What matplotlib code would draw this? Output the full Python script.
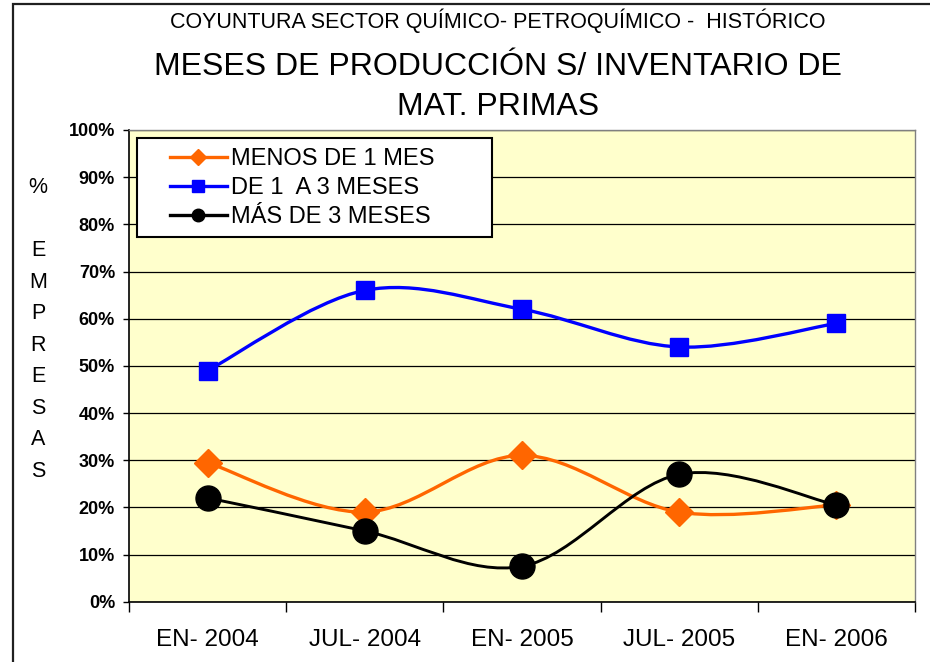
import matplotlib
matplotlib.use('Agg')
import matplotlib.pyplot as plt
from matplotlib.path import Path
from matplotlib.patches import PathPatch, Rectangle
from matplotlib.lines import Line2D

plt.rcParams['font.family'] = ['Liberation Sans', 'DejaVu Sans']

categories = ["EN- 2004", "JUL- 2004", "EN- 2005", "JUL- 2005", "EN- 2006"]
menos_1_mes = [29.5, 19, 31, 19, 20.5]
de_1_a_3_meses = [49, 66, 62, 54, 59]
mas_de_3_meses = [22, 15, 7.5, 27, 20.5]
y_ticks = [0, 10, 20, 30, 40, 50, 60, 70, 80, 90, 100]
y_tick_labels = [f"{v}%" for v in y_ticks]
series_names = ["MENOS DE 1 MES", "DE 1  A 3 MESES", "MÁS DE 3 MESES"]

W, H = 930, 662
fig = plt.figure(figsize=(W / 100, H / 100), dpi=100)
fig.patch.set_facecolor('white')

ax_l, ax_r, ax_t, ax_b = 129, 915, 130, 601.7
ax = fig.add_axes([ax_l / W, 1 - ax_b / H, (ax_r - ax_l) / W, (ax_b - ax_t) / H])
ax.set_facecolor('#FFFFCC')


def smooth_path(xs, ys):
    pts = list(zip(xs, ys))
    n = len(pts)
    verts = [pts[0]]
    codes = [Path.MOVETO]
    for i in range(n - 1):
        p0 = pts[i - 1] if i > 0 else pts[i]
        p1 = pts[i]
        p2 = pts[i + 1]
        p3 = pts[i + 2] if i + 2 < n else pts[i + 1]
        c1 = (p1[0] + (p2[0] - p0[0]) / 6, p1[1] + (p2[1] - p0[1]) / 6)
        c2 = (p2[0] - (p3[0] - p1[0]) / 6, p2[1] - (p3[1] - p1[1]) / 6)
        verts += [c1, c2, p2]
        codes += [Path.CURVE4] * 3
    return Path(verts, codes)


x = list(range(len(categories)))
styles = [
    (menos_1_mes, '#FF6600', 'D', 14, 2.4),
    (de_1_a_3_meses, '#0000FF', 's', 13, 2.4),
    (mas_de_3_meses, '#000000', 'o', 18, 2.1),
]
for k, (vals, col, mk, ms, lw) in enumerate(styles):
    patch = PathPatch(smooth_path(x, vals), facecolor='none', edgecolor=col,
                      lw=lw, zorder=3 + 2 * k, capstyle='round', joinstyle='round')
    ax.add_patch(patch)
    ax.plot(x, vals, linestyle='none', marker=mk, markersize=ms,
            markerfacecolor=col, markeredgecolor=col, zorder=4 + 2 * k)

ax.set_xlim(-0.5, len(categories) - 0.5)
ax.set_ylim(0, 100)
ax.set_yticks(y_ticks)
ax.set_yticklabels(y_tick_labels, fontsize=13, fontweight='bold')
ax.yaxis.grid(True, color='black', lw=0.9)
ax.set_axisbelow(True)
ax.tick_params(axis='y', direction='out', length=4, width=1, pad=6, colors='black')

bounds = [i - 0.5 for i in range(len(categories) + 1)]
ax.set_xticks(bounds)
ax.set_xticklabels([''] * len(bounds))
ax.tick_params(axis='x', which='major', direction='out', length=7, width=1)
ax.set_xticks(x, minor=True)
ax.set_xticklabels(categories, minor=True, fontsize=17.5)
ax.tick_params(axis='x', which='minor', length=0, pad=20)

for s in ['top', 'right']:
    ax.spines[s].set_color('#808080')
    ax.spines[s].set_linewidth(1)
for s in ['left', 'bottom']:
    ax.spines[s].set_color('black')
    ax.spines[s].set_linewidth(1.2)

# legend box
bx0 = (137 - ax_l) / (ax_r - ax_l)
bx1 = (492 - ax_l) / (ax_r - ax_l)
by1 = (ax_b - 138) / (ax_b - ax_t)
by0 = (ax_b - 237) / (ax_b - ax_t)
ax.add_patch(Rectangle((bx0, by0), bx1 - bx0, by1 - by0, transform=ax.transAxes,
                       facecolor='white', edgecolor='black', lw=1.5, zorder=10))
handles = [
    Line2D([], [], color='#FF6600', lw=2.4, marker='D', markersize=8.5,
           markerfacecolor='#FF6600', markeredgecolor='#FF6600'),
    Line2D([], [], color='#0000FF', lw=2.4, marker='s', markersize=8,
           markerfacecolor='#0000FF', markeredgecolor='#0000FF'),
    Line2D([], [], color='#000000', lw=2.4, marker='o', markersize=9,
           markerfacecolor='#000000', markeredgecolor='#000000'),
]
hx = (170 - ax_l) / (ax_r - ax_l)
hy = (ax_b - 148) / (ax_b - ax_t)
leg = ax.legend(handles, series_names, loc='upper left', bbox_to_anchor=(hx, hy),
                bbox_transform=ax.transAxes, frameon=False, borderpad=0,
                borderaxespad=0, fontsize=17, handlelength=2.4, handletextpad=0.2,
                labelspacing=0.3)
leg.set_zorder(11)

# titles
cx = 498 / W
fig.text(cx, 1 - 28 / H, "COYUNTURA SECTOR QUÍMICO- PETROQUÍMICO -  HISTÓRICO",
         ha='center', va='baseline', fontsize=15.5)
fig.text(cx, 1 - 75 / H, "MESES DE PRODUCCIÓN S/ INVENTARIO DE",
         ha='center', va='baseline', fontsize=23)
fig.text(cx, 1 - 115 / H, "MAT. PRIMAS",
         ha='center', va='baseline', fontsize=23)

# vertical axis label
fig.text(38 / W, 1 - 177 / H, "%\n\nE\nM\nP\nR\nE\nS\nA\nS",
         ha='center', va='top', fontsize=15.5, linespacing=1.66, multialignment='center')

# outer frame
fig.add_artist(Rectangle((13 / W, -0.1), 1.2, 1.1 - 4 / H, transform=fig.transFigure,
                         fill=False, edgecolor='#202020', lw=1.6, clip_on=False))

fig.savefig('out.png', dpi=100)
